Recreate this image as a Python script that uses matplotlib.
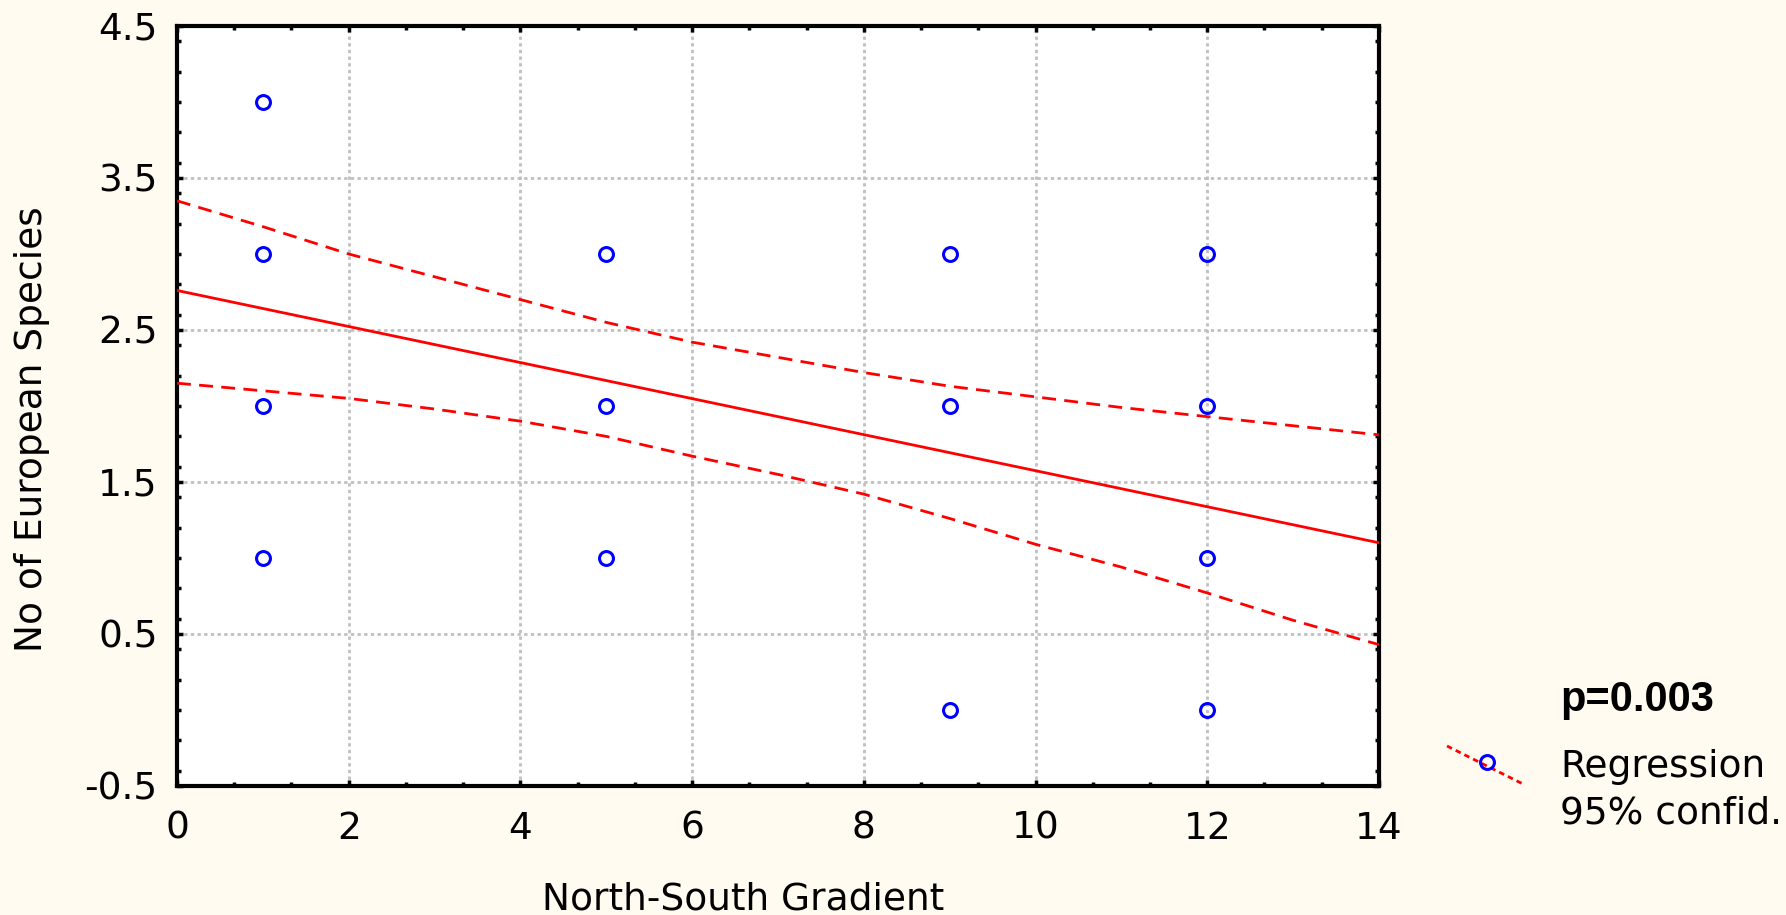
import matplotlib
matplotlib.use("Agg")
import matplotlib.pyplot as plt
from matplotlib.ticker import MultipleLocator
from matplotlib.lines import Line2D

plt.rcParams['font.family'] = ['DejaVu Sans']

# observed counts along the gradient
site_x = [1, 1, 1, 1, 5, 5, 5, 9, 9, 9, 12, 12, 12, 12]
species_n = [4, 3, 2, 1, 3, 2, 1, 3, 2, 0, 3, 2, 1, 0]

# fitted regression line
reg_x = [0, 14]
reg_y = [2.76, 1.10]

# 95% confidence bands
band_x = [0, 1, 2, 3, 4, 5, 6, 7, 8, 9, 10, 11, 12, 13, 14]
upper_y = [3.35, 3.18, 3.00, 2.85, 2.70, 2.55, 2.42, 2.32, 2.22, 2.13, 2.06, 1.99, 1.93, 1.87, 1.81]
lower_y = [2.15, 2.10, 2.05, 1.98, 1.90, 1.80, 1.67, 1.55, 1.42, 1.26, 1.09, 0.94, 0.77, 0.59, 0.43]

x_ticks = [0, 2, 4, 6, 8, 10, 12, 14]
y_ticks = [-0.5, 0.5, 1.5, 2.5, 3.5, 4.5]
p_text = "p=0.003"

BG = '#fffbf0'
RED = '#ff0000'
BLUE = '#0000ff'

fig = plt.figure(figsize=(17.86, 9.15), dpi=100, facecolor=BG)
ax = fig.add_axes([0.0991, 0.141, 0.673, 0.8306])
ax.set_facecolor('white')

ax.set_xlim(0, 14)
ax.set_ylim(-0.5, 4.5)
ax.set_xticks(x_ticks)
ax.set_yticks(y_ticks)
ax.set_yticklabels([f"{v:.1f}" for v in y_ticks])
ax.xaxis.set_minor_locator(MultipleLocator(2 / 3))
ax.yaxis.set_minor_locator(MultipleLocator(0.2))

ax.grid(True, which='major', color='#c0c0c0', linestyle=(0, (1.2, 1.2)), linewidth=2.0)
ax.tick_params(which='both', direction='in', top=True, right=True, color='black')
ax.tick_params(which='major', length=4, width=2.5, labelsize=27)
ax.tick_params(which='minor', length=3, width=2.5)
ax.tick_params(axis='y', pad=14)
ax.tick_params(axis='x', pad=18)
for s in ax.spines.values():
    s.set_linewidth(3)
    s.set_color('black')

ax.plot(reg_x, reg_y, color=RED, linewidth=2.0, zorder=3)
ax.plot(band_x, upper_y, color=RED, linewidth=2.0, linestyle=(0, (5, 3)), zorder=3)
ax.plot(band_x, lower_y, color=RED, linewidth=2.0, linestyle=(0, (5, 3)), zorder=3)
ax.plot(site_x, species_n, linestyle='none', marker='o', markersize=10,
        markerfacecolor='none', markeredgecolor=BLUE, markeredgewidth=2.2, zorder=4)

ax.set_xlabel("North-South Gradient", fontsize=27)
ax.xaxis.set_label_coords(0.471, -0.15)
ax.xaxis.label.set_va('center')
ax.set_ylabel("No of European Species", fontsize=27)
ax.yaxis.set_label_coords(-0.121, 0.47)
ax.yaxis.label.set_va('center')

# side legend
fig.text(1560 / 1786, 1 - 700 / 915, p_text, fontsize=30, fontweight='bold',
         family=['Liberation Sans', 'DejaVu Sans'], ha='left', va='center')
leg_line = Line2D([1447 / 1786, 1523 / 1786], [1 - 746 / 915, 1 - 784 / 915],
                  transform=fig.transFigure, color=RED, linewidth=2.0,
                  linestyle=(0, (2, 1.5)))
fig.add_artist(leg_line)
leg_mark = Line2D([1487 / 1786], [1 - 762 / 915], transform=fig.transFigure,
                  linestyle='none', marker='o', markersize=10, markerfacecolor='none',
                  markeredgecolor=BLUE, markeredgewidth=2.2)
fig.add_artist(leg_mark)
fig.text(1560 / 1786, 1 - 767 / 915, "Regression", fontsize=27, ha='left', va='center')
fig.text(1560 / 1786, 1 - 813 / 915, "95% confid.", fontsize=27, ha='left', va='center')

fig.savefig("out.png", dpi=100, facecolor=BG)
